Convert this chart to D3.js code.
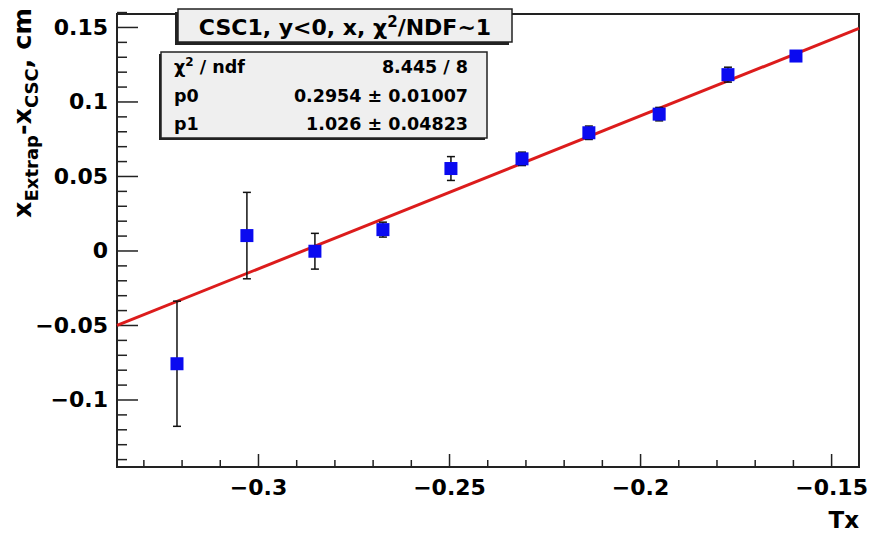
<!DOCTYPE html>
<html>
<head>
<meta charset="utf-8">
<script src="https://cdn.jsdelivr.net/npm/d3@7"></script>
<style>
  body { margin: 0; background: white; }
  svg { display: block; }
  text { font-family: "DejaVu Sans", sans-serif; font-weight: bold; fill: black; }
</style>
</head>
<body>
<svg id="chart" width="873" height="535"></svg>
<script>
// measured points, Tx vs residual
const txValues = [-0.3212, -0.3029, -0.2851, -0.2673, -0.2495, -0.2309, -0.2134, -0.1950, -0.1770, -0.1592];
const dxValues = [-0.0760, 0.0100, -0.0005, 0.0140, 0.0550, 0.0615, 0.0790, 0.0915, 0.1180, 0.1305];
const dxErrors = [0.0420, 0.0290, 0.0120, 0.0050, 0.0080, 0.0045, 0.0045, 0.0045, 0.0050, 0.0035];

// fit pol1 : p0 + p1*x
const fitParams = [0.2954, 1.026];

const xTicks = [-0.3, -0.25, -0.2, -0.15];
const xTickLabels = ["\u22120.3", "\u22120.25", "\u22120.2", "\u22120.15"];
const yTicks = [-0.1, -0.05, 0, 0.05, 0.1, 0.15];
const yTickLabels = ["\u22120.1", "\u22120.05", "0", "0.05", "0.1", "0.15"];

const statsRows = [
  ["\u03C7", " / ndf", "8.445 / 8"],
  ["p0", "", "0.2954 \u00B1 0.01007"],
  ["p1", "", "1.026 \u00B1 0.04823"]
];

const frame = { left: 117, right: 859, top: 14, bottom: 467 };

const svg = d3.select("#chart");

const x = d3.scaleLinear()
  .domain([-0.3369, -0.1427])
  .range([frame.left, frame.right]);

const y = d3.scaleLinear()
  .domain([-0.1453, 0.1587])
  .range([frame.bottom, frame.top]);

// minor ticks every 0.01
const xMinor = d3.range(-0.33, -0.14, 0.01).filter(v => !xTicks.some(t => Math.abs(t - v) < 1e-6));
const yMinor = d3.range(-0.14, 0.16, 0.01).filter(v => !yTicks.some(t => Math.abs(t - v) < 1e-6));

// x axis
svg.append("g")
  .attr("transform", `translate(0,${frame.bottom})`)
  .call(d3.axisBottom(x)
    .tickValues(xTicks)
    .tickFormat((d, i) => xTickLabels[i])
    .tickSize(-13)
    .tickPadding(12));

svg.append("g")
  .attr("transform", `translate(0,${frame.bottom})`)
  .call(d3.axisBottom(x).tickValues(xMinor).tickFormat("").tickSize(-7));

// y axis
svg.append("g")
  .attr("transform", `translate(${frame.left},0)`)
  .call(d3.axisLeft(y)
    .tickValues(yTicks)
    .tickFormat((d, i) => yTickLabels[i])
    .tickSize(-21)
    .tickPadding(9));

svg.append("g")
  .attr("transform", `translate(${frame.left},0)`)
  .call(d3.axisLeft(y).tickValues(yMinor).tickFormat("").tickSize(-10));

svg.selectAll(".domain").remove();
svg.selectAll(".tick line").attr("stroke", "#222").attr("stroke-width", 1.5);
svg.selectAll(".tick text")
  .attr("fill", "black")
  .style("font-size", "22px")
  .style("font-family", "'DejaVu Sans', sans-serif")
  .style("font-weight", "bold");

// frame
svg.append("rect")
  .attr("x", frame.left)
  .attr("y", frame.top)
  .attr("width", frame.right - frame.left)
  .attr("height", frame.bottom - frame.top)
  .attr("fill", "none")
  .attr("stroke", "#222")
  .attr("stroke-width", 2);

// fit line across the frame
const fitLine = d3.line()
  .x(d => x(d))
  .y(d => y(fitParams[0] + fitParams[1] * d));

svg.append("path")
  .datum(x.domain())
  .attr("d", fitLine)
  .attr("fill", "none")
  .attr("stroke", "#dc1c1c")
  .attr("stroke-width", 3);

// error bars
const points = txValues.map((t, i) => ({ tx: t, dx: dxValues[i], err: dxErrors[i] }));

const bars = svg.append("g").selectAll("g")
  .data(points)
  .enter().append("g");

bars.append("line")
  .attr("x1", d => x(d.tx))
  .attr("x2", d => x(d.tx))
  .attr("y1", d => y(d.dx - d.err))
  .attr("y2", d => y(d.dx + d.err))
  .attr("stroke", "#111")
  .attr("stroke-width", 1.5);

[-1, 1].forEach(s => {
  bars.append("line")
    .attr("x1", d => x(d.tx) - 4)
    .attr("x2", d => x(d.tx) + 4)
    .attr("y1", d => y(d.dx + s * d.err))
    .attr("y2", d => y(d.dx + s * d.err))
    .attr("stroke", "#111")
    .attr("stroke-width", 1.5);
});

// markers
svg.append("g").selectAll("rect")
  .data(points)
  .enter().append("rect")
  .attr("x", d => x(d.tx) - 6.5)
  .attr("y", d => y(d.dx) - 6.5)
  .attr("width", 13)
  .attr("height", 13)
  .attr("fill", "#0a0af0");

// axis titles
svg.append("text")
  .attr("x", frame.right)
  .attr("y", 528)
  .attr("text-anchor", "end")
  .style("font-size", "23px")
  .text("Tx");

const yTitle = svg.append("text")
  .attr("transform", "translate(31,8) rotate(-90)")
  .attr("text-anchor", "end")
  .style("font-size", "25.5px");
yTitle.append("tspan").text("x");
yTitle.append("tspan").attr("dy", 7).style("font-size", "18px").text("Extrap");
yTitle.append("tspan").attr("dy", -7).text("-x");
yTitle.append("tspan").attr("dy", 7).style("font-size", "18px").text("CSC");
yTitle.append("tspan").attr("dy", -7).text(", cm");

// pave with a dark shadow, ROOT style
function paveBox(x0, y0, w, h, shadow) {
  svg.append("rect")
    .attr("x", x0 - shadow).attr("y", y0 + shadow)
    .attr("width", w).attr("height", h)
    .attr("fill", "#222");
  svg.append("rect")
    .attr("x", x0).attr("y", y0)
    .attr("width", w).attr("height", h)
    .attr("fill", "#efefef")
    .attr("stroke", "#222")
    .attr("stroke-width", 1.5);
}

// title box
paveBox(178, 9, 334, 33, 3);

const title = svg.append("text")
  .attr("x", 345)
  .attr("y", 35)
  .attr("text-anchor", "middle")
  .style("font-size", "22px");
title.append("tspan").text("CSC1, y<0, x, \u03C7");
title.append("tspan").attr("dy", -8).style("font-size", "15px").text("2");
title.append("tspan").attr("dy", 8).text("/NDF~1");

// stats box
paveBox(161, 52, 326, 86, 2);

const rowY = [73, 102, 130];
statsRows.forEach((r, i) => {
  const lbl = svg.append("text")
    .attr("x", 174)
    .attr("y", rowY[i])
    .style("font-size", "17.5px");
  if (r[1] !== "") {
    lbl.append("tspan").text(r[0]);
    lbl.append("tspan").attr("dy", -7).style("font-size", "12px").text("2");
    lbl.append("tspan").attr("dy", 7).text(r[1]);
  } else {
    lbl.text(r[0]);
  }
  svg.append("text")
    .attr("x", 468)
    .attr("y", rowY[i])
    .attr("text-anchor", "end")
    .style("font-size", "17.5px")
    .text(r[2]);
});
</script>
</body>
</html>
